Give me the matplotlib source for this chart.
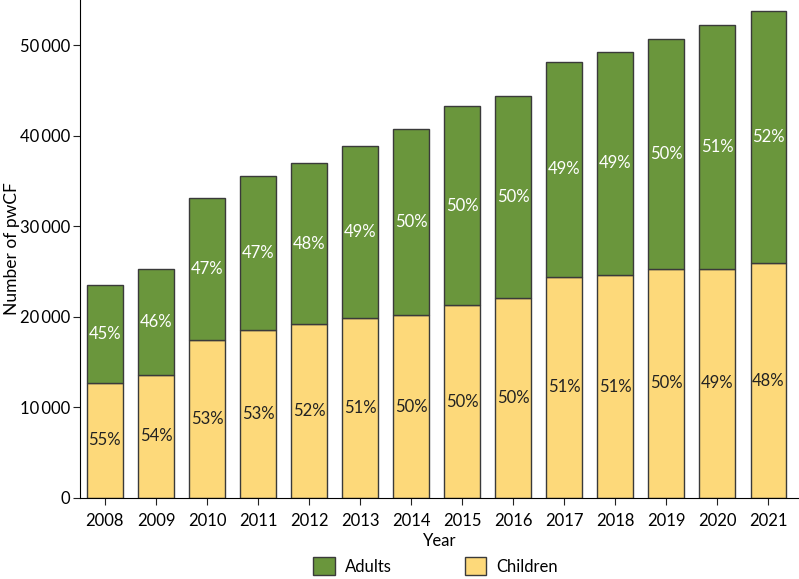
import matplotlib
matplotlib.use("Agg")
import matplotlib.pyplot as plt
import numpy as np

years = [2008, 2009, 2010, 2011, 2012, 2013, 2014, 2015, 2016, 2017, 2018, 2019, 2020, 2021]
children = [12700, 13600, 17500, 18600, 19200, 19900, 20200, 21300, 22100, 24400, 24600, 25300, 25300, 25900]
totals = [23500, 25300, 33100, 35600, 37000, 38900, 40800, 43300, 44400, 48200, 49300, 50700, 52200, 53800]
adults = [t - c for t, c in zip(totals, children)]
child_pct = ["55%", "54%", "53%", "53%", "52%", "51%", "50%", "50%", "50%", "51%", "51%", "50%", "49%", "48%"]
adult_pct = ["45%", "46%", "47%", "47%", "48%", "49%", "50%", "50%", "50%", "49%", "49%", "50%", "51%", "52%"]

GREEN = "#6a963c"
YELLOW = "#fdd97a"
EDGE = "#3a3a3a"

plt.rcParams["font.family"] = ["Lato", "DejaVu Sans"]

fig = plt.figure(figsize=(7.99, 5.79), dpi=100)
ax = fig.add_axes([0.1, 0.14, 0.9, 0.86])

x = np.arange(len(years))
bc = ax.bar(x, children, width=0.7, color=YELLOW, edgecolor=EDGE, linewidth=1.0, label="Children")
ba = ax.bar(x, adults, width=0.7, bottom=children, color=GREEN, edgecolor=EDGE, linewidth=1.0, label="Adults")

for i in range(len(years)):
    ax.text(x[i], children[i] / 2, child_pct[i], ha="center", va="center", fontsize=12, color="#222222")
    ax.text(x[i], children[i] + adults[i] / 2, adult_pct[i], ha="center", va="center", fontsize=12, color="white")

ax.set_xlim(-0.49, 13.6)
ax.set_ylim(0, 55000)
ax.set_xticks(x)
ax.set_xticklabels([str(y) for y in years])
ax.set_yticks(np.arange(0, 50001, 10000))
ax.set_yticklabels(["0", "10\u2009000", "20\u2009000", "30\u2009000", "40\u2009000", "50\u2009000"])
ax.tick_params(labelsize=12, color="#222222", length=5)
ax.tick_params(axis="x", pad=6)
ax.tick_params(axis="y", pad=2)
ax.spines["top"].set_visible(False)
ax.spines["right"].set_visible(False)
ax.set_xlabel("Year", fontsize=12, labelpad=3)
ax.set_ylabel("Number of pwCF", fontsize=12.5)
ax.yaxis.set_label_coords(-0.083, 0.5)

fig.legend(handles=[ba, bc], labels=["Adults", "Children"], loc="center",
           bbox_to_anchor=(0.545, 0.022), ncol=2, frameon=False, fontsize=12,
           handlelength=1.3, handleheight=1.3, handletextpad=0.6, columnspacing=4.4)

fig.savefig("out.png", dpi=100)
